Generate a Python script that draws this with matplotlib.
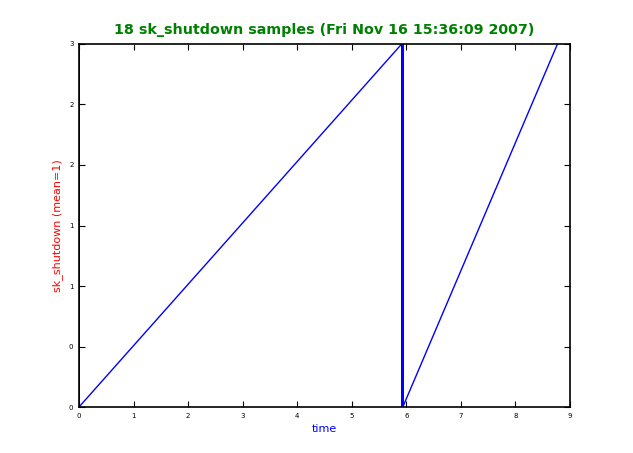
import matplotlib
matplotlib.use("Agg")
import matplotlib.pyplot as plt
from matplotlib.ticker import FormatStrFormatter

# sample times and values
t = [0, 0, 0,
     5.915, 5.915, 5.92, 5.92, 5.922, 5.922, 5.925, 5.925,
     5.928, 5.928, 5.93, 5.93, 5.935, 5.935,
     8.77]
v = [0, 3, 0] + [3, 0] * 7 + [3]

fig = plt.figure(figsize=(6.33, 4.53), dpi=100)
ax = fig.add_axes([0.1248, 0.1015, 0.7757, 0.8014])
ax.plot(t, v, color="blue", lw=1)
ax.set_xlim(0, 9)
ax.set_ylim(0, 3)
ax.set_xticks(range(10))
ax.set_yticks([0, 0.5, 1, 1.5, 2, 2.5, 3])
ax.yaxis.set_major_formatter(FormatStrFormatter("%d"))
ax.tick_params(direction="in", length=4, labelsize=5, top=True, right=True, pad=4)
for s in ax.spines.values():
    s.set_linewidth(1.2)
ax.set_title("18 sk_shutdown samples (Fri Nov 16 15:36:09 2007)",
             color="green", fontweight="bold", fontsize=10.3, pad=7)
ax.set_xlabel("time", color="blue", fontsize=8)
ax.set_ylabel("sk_shutdown (mean=1)", color="red", fontsize=8)
fig.savefig("out.png", dpi=100)
